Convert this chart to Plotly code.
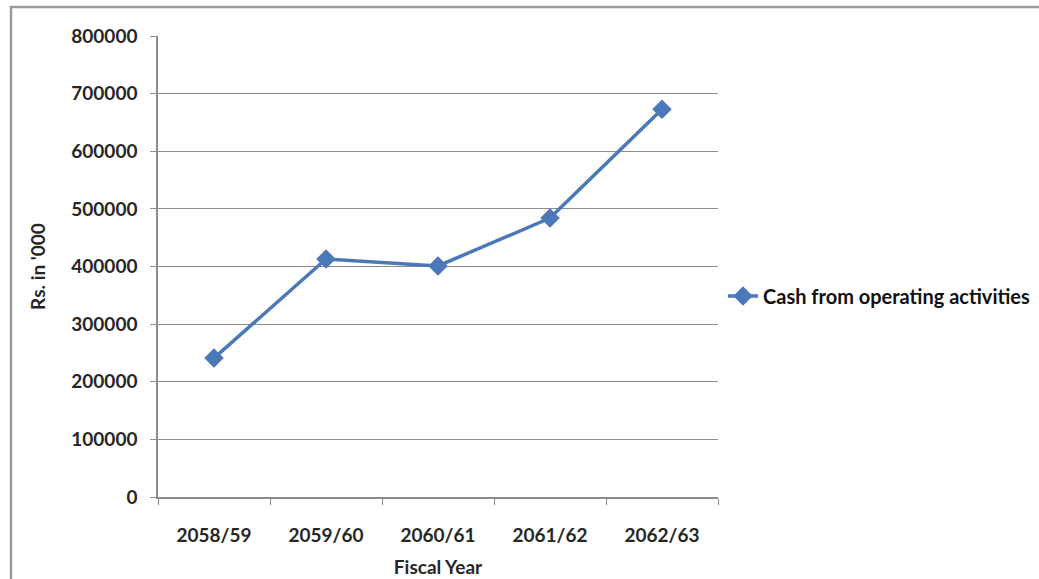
import plotly.graph_objects as go

years = ["2058/59", "2059/60", "2060/61", "2061/62", "2062/63"]
cash_ops = [241000, 413000, 401000, 484000, 673000]
y_ticks = [0, 100000, 200000, 300000, 400000, 500000, 600000, 700000, 800000]
series_name = "Cash from operating activities"

L, R, T, B = 158, 718, 36, 497
W, H = 1039, 579

fig = go.Figure()
fig.add_trace(go.Scatter(
    x=years, y=cash_ops, mode="lines+markers", name=series_name,
    line=dict(color="#4A78B9", width=3.5),
    marker=dict(symbol="diamond", size=15, color="#4A78B9"),
))

font = "Lato, 'Open Sans', sans-serif"
txt = "#262626"
fig.update_layout(
    width=W, height=H,
    margin=dict(l=L, r=W - R, t=T, b=H - B, autoexpand=False),
    paper_bgcolor="white", plot_bgcolor="white",
    font=dict(family=font, size=18, color=txt),
    showlegend=True,
    legend=dict(x=(723 - L) / (R - L), xanchor="left",
                y=(B - 296) / (B - T), yanchor="middle",
                font=dict(family=font, size=20, color="#111111", weight="bold"),
                bgcolor="rgba(0,0,0,0)"),
    xaxis=dict(
        type="category", range=[-0.5, 4.5], automargin=False,
        showgrid=False, showline=True, linecolor="#8c8c8c", linewidth=1.5,
        ticks="outside", ticklen=6, tickcolor="#8c8c8c", tickson="boundaries",
        ticklabelstandoff=20,
        tickfont=dict(family=font, size=19, color=txt, weight="bold"),
        title=dict(text="Fiscal Year", standoff=16,
                   font=dict(family=font, size=19, color=txt, weight="bold")),
    ),
    yaxis=dict(
        range=[0, 800000], tickvals=y_ticks, ticktext=[str(v) for v in y_ticks],
        automargin=False,
        showgrid=True, gridcolor="#8c8c8c", gridwidth=1.2,
        showline=True, linecolor="#8c8c8c", linewidth=1.5,
        ticks="outside", ticklen=6, tickcolor="#8c8c8c",
        ticklabelstandoff=9,
        zeroline=False,
        tickfont=dict(family=font, size=19, color=txt, weight="bold"),
        title=dict(text="Rs. in '000", standoff=21,
                   font=dict(family=font, size=19, color=txt, weight="bold")),
    ),
)

# outer chart-area border (top and left visible)
fig.add_shape(type="rect", xref="paper", yref="paper",
              x0=(11 - L) / (R - L), x1=(W + 20 - L) / (R - L),
              y0=(B - (H + 20)) / (B - T), y1=(B - 7) / (B - T),
              line=dict(color="#9a9a9a", width=2.5), layer="below")

fig.write_html("out.html", config={"displayModeBar": False},
               post_script="document.body.style.margin='0px';")
